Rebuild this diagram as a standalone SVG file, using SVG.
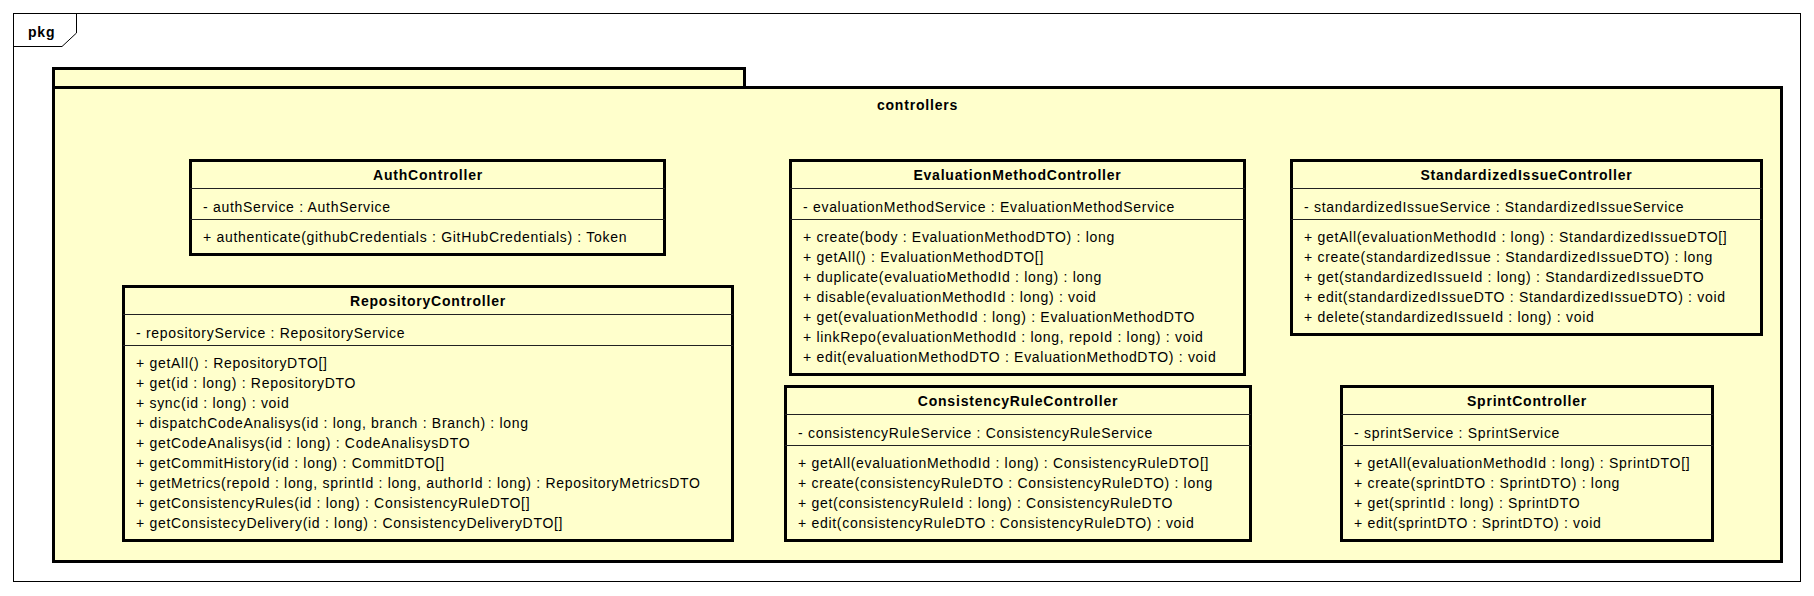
<svg xmlns="http://www.w3.org/2000/svg" width="1814" height="596" viewBox="0 0 1814 596">
<style>
  .frame{fill:#fff;stroke:#000;stroke-width:1}
  .pkg{fill:#FFFFCC;stroke:#000;stroke-width:3}
  .box{fill:#FFFFCC;stroke:#000;stroke-width:3}
  .div{stroke:#222;stroke-width:1}
  .t{font-family:"Liberation Sans",Arial,sans-serif;font-size:14px;letter-spacing:0.7px;fill:#000}
  .b{font-family:"Liberation Sans",Arial,sans-serif;font-size:14px;font-weight:bold;letter-spacing:0.8px;fill:#000}
  .c{text-anchor:middle}
</style>
<rect width="1814" height="596" fill="#fff"/>
<g id="frame">
  <rect class="frame" x="13.5" y="13.5" width="1787" height="568"/>
  <path d="M13.5 46.5 H62 L76.5 33 V13.5" fill="none" stroke="#000" stroke-width="1"/>
  <text class="b" x="28" y="37">pkg</text>
</g>
<g id="package-controllers">
  <rect class="pkg" x="53.5" y="68.5" width="691" height="19"/>
  <rect class="pkg" x="53.5" y="87.5" width="1728" height="474"/>
  <text class="b c" x="917.5" y="110">controllers</text>
</g>
<g id="AuthController">
  <rect class="box" x="190.5" y="160.5" width="474" height="94"/>
  <line class="div" x1="190" y1="188.5" x2="665" y2="188.5"/>
  <line class="div" x1="190" y1="219.5" x2="665" y2="219.5"/>
  <text class="b c" x="428" y="180">AuthController</text>
  <text class="t" x="203" y="212">- authService : AuthService</text>
  <text class="t" x="203" y="242">+ authenticate(githubCredentials : GitHubCredentials) : Token</text>
</g>
<g id="RepositoryController">
  <rect class="box" x="123.5" y="286.5" width="609" height="254"/>
  <line class="div" x1="123" y1="314.5" x2="733" y2="314.5"/>
  <line class="div" x1="123" y1="345.5" x2="733" y2="345.5"/>
  <text class="b c" x="428" y="306">RepositoryController</text>
  <text class="t" x="136" y="338">- repositoryService : RepositoryService</text>
  <text class="t" x="136" y="368">+ getAll() : RepositoryDTO[]</text>
  <text class="t" x="136" y="388">+ get(id : long) : RepositoryDTO</text>
  <text class="t" x="136" y="408">+ sync(id : long) : void</text>
  <text class="t" x="136" y="428">+ dispatchCodeAnalisys(id : long, branch : Branch) : long</text>
  <text class="t" x="136" y="448">+ getCodeAnalisys(id : long) : CodeAnalisysDTO</text>
  <text class="t" x="136" y="468">+ getCommitHistory(id : long) : CommitDTO[]</text>
  <text class="t" x="136" y="488">+ getMetrics(repoId : long, sprintId : long, authorId : long) : RepositoryMetricsDTO</text>
  <text class="t" x="136" y="508">+ getConsistencyRules(id : long) : ConsistencyRuleDTO[]</text>
  <text class="t" x="136" y="528">+ getConsistecyDelivery(id : long) : ConsistencyDeliveryDTO[]</text>
</g>
<g id="EvaluationMethodController">
  <rect class="box" x="790.5" y="160.5" width="454" height="214"/>
  <line class="div" x1="790" y1="188.5" x2="1245" y2="188.5"/>
  <line class="div" x1="790" y1="219.5" x2="1245" y2="219.5"/>
  <text class="b c" x="1017.5" y="180">EvaluationMethodController</text>
  <text class="t" x="803" y="212">- evaluationMethodService : EvaluationMethodService</text>
  <text class="t" x="803" y="242">+ create(body : EvaluationMethodDTO) : long</text>
  <text class="t" x="803" y="262">+ getAll() : EvaluationMethodDTO[]</text>
  <text class="t" x="803" y="282">+ duplicate(evaluatioMethodId : long) : long</text>
  <text class="t" x="803" y="302">+ disable(evaluationMethodId : long) : void</text>
  <text class="t" x="803" y="322">+ get(evaluationMethodId : long) : EvaluationMethodDTO</text>
  <text class="t" x="803" y="342">+ linkRepo(evaluationMethodId : long, repoId : long) : void</text>
  <text class="t" x="803" y="362">+ edit(evaluationMethodDTO : EvaluationMethodDTO) : void</text>
</g>
<g id="ConsistencyRuleController">
  <rect class="box" x="785.5" y="386.5" width="465" height="154"/>
  <line class="div" x1="785" y1="414.5" x2="1251" y2="414.5"/>
  <line class="div" x1="785" y1="445.5" x2="1251" y2="445.5"/>
  <text class="b c" x="1018" y="406">ConsistencyRuleController</text>
  <text class="t" x="798" y="438">- consistencyRuleService : ConsistencyRuleService</text>
  <text class="t" x="798" y="468">+ getAll(evaluationMethodId : long) : ConsistencyRuleDTO[]</text>
  <text class="t" x="798" y="488">+ create(consistencyRuleDTO : ConsistencyRuleDTO) : long</text>
  <text class="t" x="798" y="508">+ get(consistencyRuleId : long) : ConsistencyRuleDTO</text>
  <text class="t" x="798" y="528">+ edit(consistencyRuleDTO : ConsistencyRuleDTO) : void</text>
</g>
<g id="StandardizedIssueController">
  <rect class="box" x="1291.5" y="160.5" width="470" height="174"/>
  <line class="div" x1="1291" y1="188.5" x2="1762" y2="188.5"/>
  <line class="div" x1="1291" y1="219.5" x2="1762" y2="219.5"/>
  <text class="b c" x="1526.5" y="180">StandardizedIssueController</text>
  <text class="t" x="1304" y="212">- standardizedIssueService : StandardizedIssueService</text>
  <text class="t" x="1304" y="242">+ getAll(evaluationMethodId : long) : StandardizedIssueDTO[]</text>
  <text class="t" x="1304" y="262">+ create(standardizedIssue : StandardizedIssueDTO) : long</text>
  <text class="t" x="1304" y="282">+ get(standardizedIssueId : long) : StandardizedIssueDTO</text>
  <text class="t" x="1304" y="302">+ edit(standardizedIssueDTO : StandardizedIssueDTO) : void</text>
  <text class="t" x="1304" y="322">+ delete(standardizedIssueId : long) : void</text>
</g>
<g id="SprintController">
  <rect class="box" x="1341.5" y="386.5" width="371" height="154"/>
  <line class="div" x1="1341" y1="414.5" x2="1713" y2="414.5"/>
  <line class="div" x1="1341" y1="445.5" x2="1713" y2="445.5"/>
  <text class="b c" x="1527" y="406">SprintController</text>
  <text class="t" x="1354" y="438">- sprintService : SprintService</text>
  <text class="t" x="1354" y="468">+ getAll(evaluationMethodId : long) : SprintDTO[]</text>
  <text class="t" x="1354" y="488">+ create(sprintDTO : SprintDTO) : long</text>
  <text class="t" x="1354" y="508">+ get(sprintId : long) : SprintDTO</text>
  <text class="t" x="1354" y="528">+ edit(sprintDTO : SprintDTO) : void</text>
</g>
<g id="connectors"></g>
</svg>
